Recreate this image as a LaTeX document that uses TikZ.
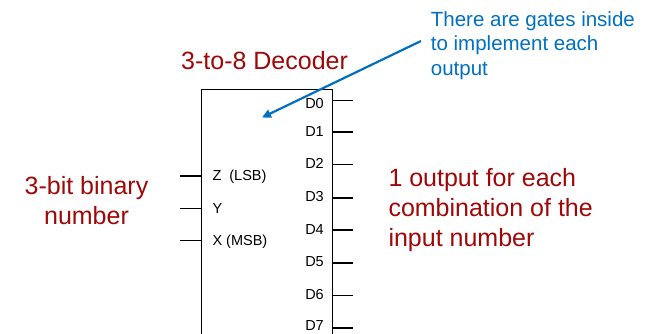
\documentclass[tikz,border=0pt]{standalone}
\usepackage{fontspec}
\setmainfont{Liberation Sans}
\usetikzlibrary{arrows.meta}
\definecolor{decred}{RGB}{158,8,8}
\definecolor{noteblue}{RGB}{0,112,192}
\begin{document}
\begin{tikzpicture}[x=1pt,y=-1pt,
  wire/.style={line width=1.6pt},
  pinlabel/.style={font=\fontsize{14.5}{16}\selectfont, inner sep=0pt},
  redtext/.style={text=decred, font=\fontsize{25}{30}\selectfont, inner sep=0pt},
  bluetext/.style={text=noteblue, font=\fontsize{20.5}{24.3}\selectfont, inner sep=0pt},
  pointer/.style={draw=noteblue, line width=2.2pt, -{Triangle[length=9pt,width=8.5pt]}}]
\useasboundingbox (0,0) rectangle (654,333);
\clip (0,0) rectangle (654,333);

% decoder block (runs past the lower edge)
\node[draw, line width=1.4pt, anchor=north west, inner sep=0pt,
      minimum width=130.5pt, minimum height=270pt] (dec) at (201,89) {};

% outputs D0..D7
\foreach \i/\ly/\ty in {0/100.3/108.3, 1/132/136, 2/164.5/168, 3/197.7/201.7,
                        4/230/234, 5/262.7/266.7, 6/295.3/299.3, 7/327.7/330.8} {
  \coordinate (o\i) at (331.5,\ly);
  \coordinate (e\i) at (353,\ly);
  \draw[wire] (o\i) -- (e\i);
  \node[pinlabel, anchor=base east] (d\i) at (324,\ty) {D\i};
}

% inputs
\foreach \n/\ly/\ty/\lab in {z/175.7/180.7/{Z\ \ (LSB)}, y/208.3/213.3/Y, x/240.3/245.7/{X (MSB)}} {
  \coordinate (i\n) at (201,\ly);
  \coordinate (s\n) at (179.5,\ly);
  \draw[wire] (s\n) -- (i\n);
  \node[pinlabel, anchor=base west] (l\n) at (212.3,\ty) {\lab};
}

% titles and notes (base anchor of a multi-line node sits on its last line)
\node[redtext, anchor=base west] (title) at (181,69) {3-to-8 Decoder};
\node[redtext, anchor=base, align=center] (innote) at (86.5,224.5) {3-bit binary\\number};
\node[redtext, anchor=base west, align=left] (outnote) at (388.3,246.5)
  {1 output for each\\combination of the\\input number};
\node[bluetext, anchor=base west, align=left] (gatenote) at (430.7,75)
  {There are gates inside\\to implement each\\output};

% pointer from the note into the block
\coordinate (tail) at (421,41);
\coordinate (tip) at (262,117.5);
\draw[pointer] (tail) -- (tip);
\end{tikzpicture}
\end{document}
